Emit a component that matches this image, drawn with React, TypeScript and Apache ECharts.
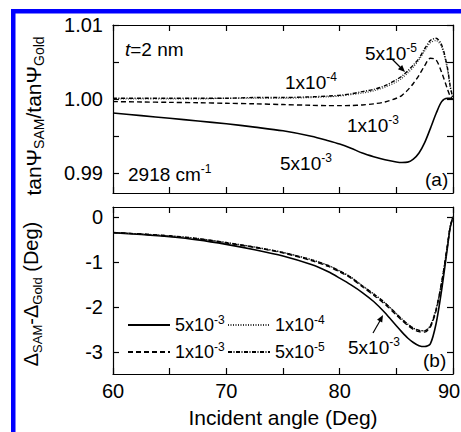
import React, { useEffect, useRef } from 'react';
import * as echarts from 'echarts';

const FONT = '"Liberation Sans", Arial, Helvetica, sans-serif';

// Incident angle (Deg)
const angles = [60, 62.5, 65, 67.5, 70, 72.5, 75, 77.5, 79, 80, 81, 82, 83, 84, 85, 85.5, 86, 86.5, 87, 87.5, 88, 88.5, 89, 89.5, 89.75, 90];

// Panel (a): tanPsi_SAM / tanPsi_Gold
const psi5e3 = [0.9981, 0.99775, 0.9974, 0.99703, 0.99665, 0.9962, 0.9957, 0.99497, 0.99437, 0.99392, 0.99335, 0.9927, 0.9922, 0.99178, 0.9915, 0.99143, 0.99147, 0.99187, 0.9927, 0.9941, 0.996, 0.998, 0.99965, 1.0001, 1.0001, 1.0];
const psi1e3 = [0.99965, 0.9996, 0.99955, 0.9995, 0.99942, 0.99935, 0.99925, 0.99915, 0.9991, 0.9991, 0.99912, 0.9992, 0.99935, 0.9996, 1.0001, 1.0005, 1.0012, 1.0021, 1.0032, 1.0045, 1.0055, 1.0053, 1.0036, 1.0014, 1.0004, 1.0];
const psi1e4 = [1.0, 1.0, 1.0, 1.0, 1.0001, 1.0001, 1.0001, 1.0002, 1.0003, 1.0004, 1.0006, 1.0008, 1.0011, 1.0016, 1.0023, 1.0028, 1.0035, 1.0043, 1.0053, 1.0065, 1.0076, 1.0079, 1.007, 1.004, 1.0016, 1.0];
const psi5e5 = [1.0001, 1.0001, 1.0001, 1.0001, 1.0001, 1.0002, 1.0002, 1.0003, 1.0004, 1.0005, 1.0007, 1.001, 1.0013, 1.0018, 1.0026, 1.0031, 1.0038, 1.0046, 1.0055, 1.0068, 1.0079, 1.0082, 1.0073, 1.0043, 1.0018, 1.0];

// Panel (b): Delta_SAM - Delta_Gold (Deg)
const del5e3 = [-0.35, -0.39, -0.44, -0.51, -0.61, -0.73, -0.87, -1.06, -1.22, -1.36, -1.51, -1.68, -1.88, -2.13, -2.42, -2.56, -2.69, -2.79, -2.86, -2.88, -2.82, -2.38, -1.62, -0.7, -0.24, 0];
const del1e3 = [-0.35, -0.38, -0.43, -0.49, -0.58, -0.68, -0.8, -0.97, -1.1, -1.22, -1.36, -1.55, -1.74, -1.94, -2.18, -2.3, -2.41, -2.5, -2.55, -2.56, -2.45, -2.09, -1.47, -0.66, -0.22, 0];
const del1e4 = [-0.35, -0.38, -0.42, -0.48, -0.57, -0.67, -0.79, -0.95, -1.08, -1.2, -1.34, -1.53, -1.71, -1.91, -2.15, -2.27, -2.38, -2.47, -2.52, -2.535, -2.42, -2.06, -1.45, -0.65, -0.22, 0];
const del5e5 = [-0.35, -0.38, -0.42, -0.48, -0.57, -0.67, -0.79, -0.95, -1.08, -1.2, -1.34, -1.53, -1.71, -1.91, -2.15, -2.27, -2.38, -2.47, -2.52, -2.53, -2.42, -2.06, -1.45, -0.65, -0.22, 0];

const seriesNames = ['5x10-3', '1x10-3', '1x10-4', '5x10-5'];
const legendLabels: Record<string, string> = {
  '5x10-3': '{n|5x10}{sup|-3}',
  '1x10-3': '{n|1x10}{sup|-3}',
  '1x10-4': '{n|1x10}{sup|-4}',
  '5x10-5': '{n|5x10}{sup|-5}',
};

const xTicksMajor = [60, 70, 80, 90];
const psiTicks = [0.99, 0.995, 1.0, 1.005, 1.01];
const psiLabels = [0.99, 1.0, 1.01];
const delTicks = [-3, -2, -1, 0];

const lineTypes: Record<string, any> = {
  '5x10-3': { type: 'solid', width: 1.6, color: '#000' },
  '1x10-3': { type: [5, 3], width: 1.4, color: '#000' },
  '1x10-4': { type: [1, 1.5], width: 1.2, color: '#333' },
  '5x10-5': { type: [4, 1.5, 1, 1.5], width: 1.4, color: '#000' },
};

const toPairs = (ys: number[]) => angles.map((a, i) => [a, ys[i]]);

export default function App() {
  const ref = useRef<HTMLDivElement>(null);
  useEffect(() => {
    const chart = echarts.init(ref.current!, null, { renderer: 'svg' });

    const txt = { fontFamily: FONT, color: '#000' };
    const annRich = {
      n: { ...txt, fontSize: 19, lineHeight: 22 },
      i: { ...txt, fontSize: 19, lineHeight: 22, fontStyle: 'italic' },
      sup: { ...txt, fontSize: 12, lineHeight: 12, verticalAlign: 'top' },
    };
    const legRich = {
      n: { ...txt, fontSize: 18, lineHeight: 22 },
      sup: { ...txt, fontSize: 12, lineHeight: 12, verticalAlign: 'top' },
    };

    const axisLine = { show: true, onZero: false, lineStyle: { color: '#000', width: 1.2 } };
    const tick = { show: true, inside: true, length: 6, lineStyle: { color: '#000', width: 1.2 } };
    const labelStyle = { color: '#000', fontSize: 20, fontFamily: FONT };

    const xBase = (grid: number, extra: any = {}) => ({
      type: 'value', gridIndex: grid, min: 60, max: 90, interval: 5,
      axisLine, axisTick: tick, splitLine: { show: false }, axisLabel: { show: false }, ...extra,
    });

    const series: any[] = [];
    const psiData: Record<string, number[]> = { '5x10-3': psi5e3, '1x10-3': psi1e3, '1x10-4': psi1e4, '5x10-5': psi5e5 };
    const delData: Record<string, number[]> = { '5x10-3': del5e3, '1x10-3': del1e3, '1x10-4': del1e4, '5x10-5': del5e5 };
    seriesNames.forEach((nm) => {
      series.push({ name: nm, type: 'line', xAxisIndex: 0, yAxisIndex: 0, data: toPairs(psiData[nm]), symbol: 'none', showSymbol: false, smooth: 0.3, lineStyle: lineTypes[nm], itemStyle: { color: lineTypes[nm].color } });
      series.push({ name: nm, type: 'line', xAxisIndex: 1, yAxisIndex: 1, data: toPairs(delData[nm]), symbol: 'none', showSymbol: false, smooth: 0.25, lineStyle: lineTypes[nm], itemStyle: { color: lineTypes[nm].color } });
    });

    const legendPos: Record<string, [number, number]> = {
      '5x10-3': [127, 314],
      '1x10-4': [227, 314],
      '1x10-3': [127, 341],
      '5x10-5': [227, 341],
    };
    const legends = seriesNames.map((nm) => ({
      data: [nm], left: legendPos[nm][0], top: legendPos[nm][1], padding: 0,
      itemWidth: 42, itemHeight: 14, selectedMode: false,
      itemStyle: { opacity: 0 },
      formatter: (name: string) => legendLabels[name],
      textStyle: { ...txt, fontSize: 18, rich: legRich },
    }));

    const annText = (x: number, y: number, text: string) => ({
      type: 'text', x, y, z: 100,
      style: { text, rich: annRich, align: 'left', verticalAlign: 'middle', fill: '#000', font: `19px ${FONT}` },
    });

    const option: any = {
      animation: false,
      backgroundColor: '#fff',
      grid: [
        { left: 113, top: 25, width: 340, height: 168, containLabel: false, outerBoundsMode: 'none' },
        { left: 113, top: 207, width: 340, height: 167, containLabel: false, outerBoundsMode: 'none' },
      ],
      xAxis: [
        xBase(0),
        xBase(1, {
          axisLabel: {
            show: true, ...labelStyle, margin: 7, alignMinLabel: 'center', alignMaxLabel: 'center',
            formatter: (v: number) => (v === 90 ? '{r|90}' : xTicksMajor.includes(v) ? String(v) : ''),
            rich: { r: { ...labelStyle, padding: [0, 8, 0, 0] } },
          },
          name: 'Incident angle (Deg)', nameLocation: 'middle', nameGap: 33,
          nameTextStyle: { color: '#000', fontSize: 21, fontFamily: FONT },
        }),
        xBase(0, { position: 'top' }),
        xBase(1, { position: 'top' }),
      ],
      yAxis: [
        {
          type: 'value', gridIndex: 0, min: 0.9873, max: 1.01, axisLine, splitLine: { show: false },
          axisTick: { ...tick, customValues: psiTicks },
          axisLabel: { ...labelStyle, margin: 10, customValues: psiLabels, formatter: (v: number) => v.toFixed(2) },
        },
        {
          type: 'value', gridIndex: 1, min: -3.49, max: 0.22, axisLine, splitLine: { show: false },
          axisTick: { ...tick, customValues: delTicks },
          axisLabel: { ...labelStyle, margin: 10, customValues: delTicks, formatter: (v: number) => String(Math.round(v)) },
        },
        {
          type: 'value', gridIndex: 0, position: 'right', min: 0.9873, max: 1.01, axisLine, splitLine: { show: false },
          axisTick: { ...tick, customValues: psiTicks }, axisLabel: { show: false },
        },
        {
          type: 'value', gridIndex: 1, position: 'right', min: -3.49, max: 0.22, axisLine, splitLine: { show: false },
          axisTick: { ...tick, customValues: delTicks }, axisLabel: { show: false },
        },
      ],
      legend: legends,
      series,
      graphic: [
        { type: 'rect', shape: { x: 11, y: 9, width: 4.5, height: 423 }, style: { fill: '#0000ff' }, z: 50 },
        { type: 'rect', shape: { x: 11, y: 9, width: 450, height: 4.5 }, style: { fill: '#0000ff' }, z: 50 },
        {
          type: 'text', x: 33, y: 116, rotation: Math.PI / 2, z: 100,
          style: {
            text: '{m|tanΨ}{s|SAM}{m|/tanΨ}{s|Gold}', align: 'center', verticalAlign: 'middle',
            rich: {
              m: { ...txt, fontSize: 21, lineHeight: 26 },
              s: { ...txt, fontSize: 14, lineHeight: 10, verticalAlign: 'bottom' },
            },
          },
        },
        {
          type: 'text', x: 31, y: 294, rotation: Math.PI / 2, z: 100,
          style: {
            text: '{m|Δ}{s|SAM}{m|-Δ}{s|Gold}{m| (Deg)}', align: 'center', verticalAlign: 'middle',
            rich: {
              m: { ...txt, fontSize: 20, lineHeight: 26 },
              s: { ...txt, fontSize: 13, lineHeight: 10, verticalAlign: 'bottom' },
            },
          },
        },
        annText(125, 49, '{i|t}{n|=2 nm}'),
        annText(128, 174, '{n|2918 cm}{sup|-1}'),
        annText(425, 179, '{n|(a)}'),
        annText(365, 53, '{n|5x10}{sup|-5}'),
        annText(285, 82, '{n|1x10}{sup|-4}'),
        annText(347, 125, '{n|1x10}{sup|-3}'),
        annText(280, 163, '{n|5x10}{sup|-3}'),
        annText(348, 347, '{n|5x10}{sup|-3}'),
        annText(423, 360, '{n|(b)}'),
        { type: 'line', z: 100, shape: { x1: 392, y1: 59, x2: 402, y2: 69 }, style: { stroke: '#000', lineWidth: 1.2 } },
        { type: 'polygon', z: 100, shape: { points: [[405, 72], [397.9, 69.2], [402.2, 64.9]] }, style: { fill: '#000' } },
        { type: 'line', z: 100, shape: { x1: 373, y1: 333, x2: 381, y2: 319 }, style: { stroke: '#000', lineWidth: 1.2 } },
        { type: 'polygon', z: 100, shape: { points: [[383, 315], [382.2, 322.6], [377.0, 319.7]] }, style: { fill: '#000' } },
      ],
    };

    chart.setOption(option);
    return () => chart.dispose();
  }, []);
  return <div ref={ref} style={{ position: 'fixed', left: 0, top: 0, width: 461, height: 432 }} />;
}
